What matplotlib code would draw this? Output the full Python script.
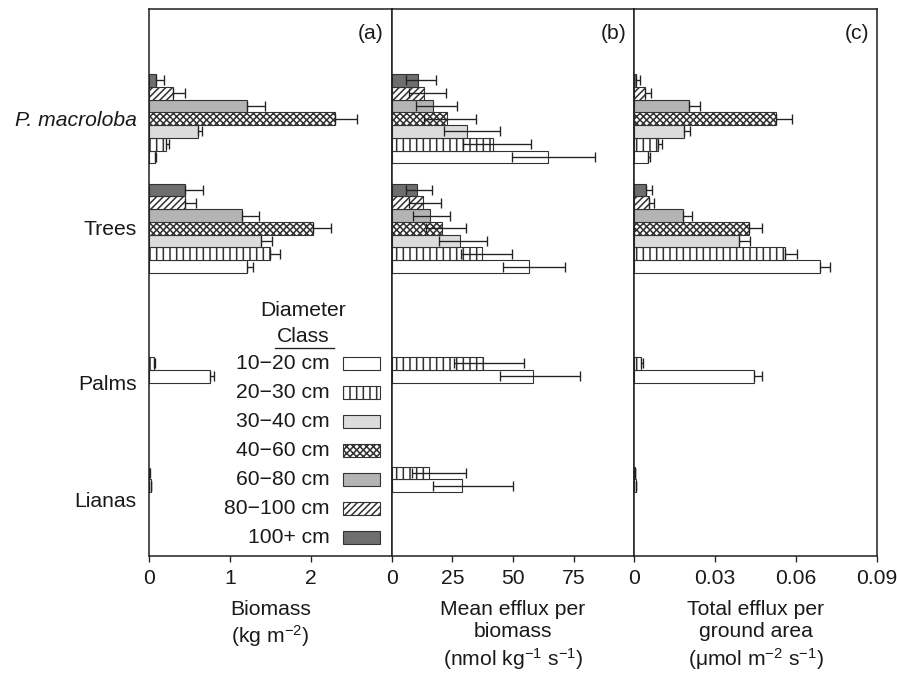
import numpy as np
import matplotlib.pyplot as plt
from matplotlib.patches import Rectangle
from matplotlib.lines import Line2D

plt.rcParams['font.family'] = ['Liberation Sans', 'DejaVu Sans']
plt.rcParams['mathtext.fontset'] = 'custom'
plt.rcParams['mathtext.rm'] = 'Liberation Sans'
plt.rcParams['mathtext.it'] = 'Liberation Sans:italic'
plt.rcParams['mathtext.default'] = 'regular'
plt.rcParams['hatch.linewidth'] = 1.4

nan = np.nan

groups = ["P. macroloba", "Trees", "Palms", "Lianas"]
classes = ["10\u221220 cm", "20\u221230 cm", "30\u221240 cm", "40\u221260 cm",
           "60\u221280 cm", "80\u2212100 cm", "100+ cm"]

# (a) biomass, kg m-2 (rows = groups, cols = classes 10-20 ... 100+)
biomass = [[0.08, 0.21, 0.60, 2.30, 1.21, 0.30, 0.086],
           [1.21, 1.49, 1.39, 2.03, 1.15, 0.44, 0.44],
           [0.75, 0.06, nan, nan, nan, nan, nan],
           [0.02, 0.005, nan, nan, nan, nan, nan]]
biomass_err = [[0.01, 0.04, 0.06, 0.27, 0.22, 0.15, 0.10],
               [0.07, 0.13, 0.13, 0.22, 0.21, 0.14, 0.23],
               [0.05, 0.02, nan, nan, nan, nan, nan],
               [0.01, 0.002, nan, nan, nan, nan, nan]]

# (b) mean efflux per biomass, nmol kg-1 s-1, with lower / upper limits
efflux = [[64.5, 41.6, 31.0, 22.8, 16.9, 13.5, 10.7],
          [56.6, 37.3, 28.2, 20.9, 16.0, 13.0, 10.3],
          [58.4, 37.7, nan, nan, nan, nan, nan],
          [29.0, 15.3, nan, nan, nan, nan, nan]]
efflux_lo = [[49.5, 29.5, 21.5, 13.5, 10.0, 7.3, 6.1],
             [45.8, 28.6, 19.5, 14.1, 8.9, 7.3, 6.0],
             [44.5, 25.5, nan, nan, nan, nan, nan],
             [17.0, 8.4, nan, nan, nan, nan, nan]]
efflux_hi = [[83.7, 57.3, 44.8, 34.6, 27.1, 22.5, 18.3],
             [71.3, 49.6, 39.4, 30.6, 24.1, 20.3, 16.5],
             [77.8, 54.6, nan, nan, nan, nan, nan],
             [50.2, 30.8, nan, nan, nan, nan, nan]]

# (c) total efflux per ground area, umol m-2 s-1
total = [[0.0052, 0.0089, 0.0184, 0.0524, 0.0204, 0.0040, 0.0005],
         [0.0687, 0.0557, 0.0388, 0.0425, 0.0180, 0.0056, 0.0042],
         [0.0442, 0.0023, nan, nan, nan, nan, nan],
         [0.0006, 0.0001, nan, nan, nan, nan, nan]]
total_err = [[0.0006, 0.0012, 0.0022, 0.0060, 0.0040, 0.0021, 0.0016],
             [0.0039, 0.0046, 0.0042, 0.0047, 0.0035, 0.0017, 0.0025],
             [0.0031, 0.0008, nan, nan, nan, nan, nan],
             [0.0002, 0.0001, nan, nan, nan, nan, nan]]

facecolors = ["white", "white", "#dcdcdc", "white", "#b4b4b4", "white", "#6e6e6e"]
hatches = [None, "||", None, "xxxx", None, "////", None]
EDGE = "#333333"
INK = "#222222"

DPI = 80
W, H = 897, 678
fig = plt.figure(figsize=(W / DPI, H / DPI), dpi=DPI)
x0, x1, ytop, ybot = 149, 877, 9, 556
pw = (x1 - x0) / 3
axes = [fig.add_axes([(x0 + i * pw) / W, 1 - ybot / H, pw / W, (ybot - ytop) / H])
        for i in range(3)]

# vertical layout in bar-slot units
first, step, ymax = 5.1, 8.6, 42.9
label_off = [3.45, 3.4, 7.03, 7.6]


def ypos(g, k):
    return first + g * step + (6 - k) + 0.5


def draw_panel(ax, vals, lo, hi):
    vals = np.array(vals, dtype=float)
    lo = np.array(lo, dtype=float)
    hi = np.array(hi, dtype=float)
    for k in range(len(classes)):
        ok = ~np.isnan(vals[:, k])
        gs = np.arange(len(groups))[ok]
        ys = [ypos(g, k) for g in gs]
        ax.barh(ys, vals[ok, k], height=1.0, color=facecolors[k], hatch=hatches[k],
                edgecolor=EDGE, linewidth=1.0, zorder=2)
        ax.errorbar(vals[ok, k], ys, xerr=[vals[ok, k] - lo[ok, k], hi[ok, k] - vals[ok, k]],
                    fmt="none", ecolor=INK, elinewidth=1.2, capsize=4.3, capthick=1.2, zorder=3)


b = np.array(biomass)
be = np.array(biomass_err)
draw_panel(axes[0], b, b, b + be)
draw_panel(axes[1], efflux, efflux_lo, efflux_hi)
t = np.array(total)
te = np.array(total_err)
draw_panel(axes[2], t, t, t + te)

xlims = [(0, 3), (0, 100), (0, 0.09)]
xticks = [[0, 1, 2], [0, 25, 50, 75], [0, 0.03, 0.06, 0.09]]
xticklabels = [["0", "1", "2"], ["0", "25", "50", "75"], ["0", "0.03", "0.06", "0.09"]]
xlabels = ["Biomass\n(kg m$^{-2}$)",
           "Mean efflux per\nbiomass\n(nmol kg$^{-1}$ s$^{-1}$)",
           "Total efflux per\nground area\n(\u03bcmol m$^{-2}$ s$^{-1}$)"]
letters = ["(a)", "(b)", "(c)"]

for i, ax in enumerate(axes):
    ax.set_xlim(*xlims[i])
    ax.set_ylim(ymax, 0)
    ax.set_xticks(xticks[i], xticklabels[i])
    ax.tick_params(axis="x", direction="out", length=5.5, width=1.2, color=INK,
                   labelsize=19, pad=6, labelcolor="#1a1a1a")
    ax.tick_params(axis="y", length=0)
    for s in ax.spines.values():
        s.set_linewidth(1.4)
        s.set_color(INK)
    ax.set_xlabel(xlabels[i], fontsize=19, labelpad=11, color="#1a1a1a", linespacing=1.22)
    ax.xaxis.label.set_verticalalignment("top")
    ax.text(0.967, 0.956, letters[i], transform=ax.transAxes, ha="right", va="center",
            fontsize=19, color="#1a1a1a")
    if i == 0:
        ax.set_yticks([first + g * step + label_off[g] for g in range(len(groups))], groups)
        ax.tick_params(axis="y", labelsize=19, pad=11, labelcolor="#1a1a1a")
        ax.get_yticklabels()[0].set_style("italic")
    else:
        ax.set_yticks([])

# legend drawn inside panel (a)
ax = axes[0]
pxh = ybot - ytop


def fy(py):
    return 1 - (py - ytop) / pxh


def fx(px):
    return (px - x0) / pw


ax.text(fx(303), fy(310), "Diameter", transform=ax.transAxes, ha="center", va="center",
        fontsize=19, color="#1a1a1a")
ax.text(fx(303), fy(336), "Class", transform=ax.transAxes, ha="center", va="center",
        fontsize=19, color="#1a1a1a")
ax.add_line(Line2D([fx(275), fx(334)], [fy(348), fy(348)], transform=ax.transAxes,
                   color=INK, linewidth=1.2))
for k, lab in enumerate(classes):
    py = 363.7 + 29.0 * k
    ax.text(fx(330), fy(py), lab, transform=ax.transAxes, ha="right", va="center",
            fontsize=19, color="#1a1a1a")
    ax.add_patch(Rectangle((fx(343), fy(py + 6.35)), 37 / pw, 12.7 / pxh,
                           transform=ax.transAxes, facecolor=facecolors[k],
                           hatch=hatches[k], edgecolor=EDGE, linewidth=1.0, zorder=4))

fig.savefig("out.png", dpi=DPI)
